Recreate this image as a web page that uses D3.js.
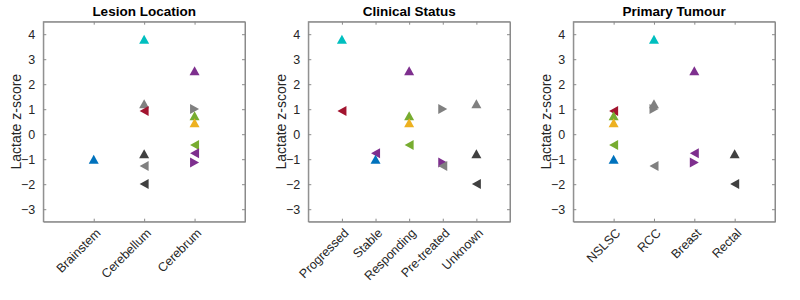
<!DOCTYPE html>
<html>
<head>
<meta charset="utf-8">
<script src="https://cdn.jsdelivr.net/npm/d3@7"></script>
<style>
  body { margin: 0; background: #fff; }
  text { font-family: "Liberation Sans", Arial, sans-serif; }
</style>
</head>
<body>
<div id="chart"></div>
<script>
// categories for each panel
var locationCats = ["Brainstem", "Cerebellum", "Cerebrum"];
var statusCats = ["Progressed", "Stable", "Responding", "Pre-treated", "Unknown"];
var tumourCats = ["NSLSC", "RCC", "Breast", "Rectal"];
var yTicks = [-3, -2, -1, 0, 1, 2, 3, 4];

// one entry per lesion
var lactateZ = [3.8, 2.54, 1.22, 0.93, 1.01, 0.74, 0.46, -0.43, -0.78, -0.76, -1.13, -1.0, -1.27, -1.99];
var lesionLocation = ["Cerebellum", "Cerebrum", "Cerebellum", "Cerebellum", "Cerebrum", "Cerebrum", "Cerebrum",
  "Cerebrum", "Cerebellum", "Cerebrum", "Cerebrum", "Brainstem", "Cerebellum", "Cerebellum"];
var clinicalStatus = ["Progressed", "Responding", "Unknown", "Progressed", "Pre-treated", "Responding", "Responding",
  "Responding", "Unknown", "Stable", "Pre-treated", "Stable", "Pre-treated", "Unknown"];
var primaryTumour = ["RCC", "Breast", "RCC", "NSLSC", "RCC", "NSLSC", "NSLSC",
  "NSLSC", "Rectal", "Breast", "Breast", "NSLSC", "RCC", "Rectal"];

// marker style per lesion
var markerColor = ["#00bfbf", "#7e2f8e", "#808080", "#a2142f", "#808080", "#77ac30", "#edb120",
  "#77ac30", "#404040", "#7e2f8e", "#7e2f8e", "#0072bd", "#808080", "#404040"];
var markerShape = ["up", "up", "up", "left", "right", "up", "up",
  "left", "up", "left", "right", "up", "left", "left"];

var W = 800, H = 300;
var top0 = 21.7, bottom0 = 221.7, boxW = 201.7;
var lefts = [43.3, 308.3, 573.3];

var svg = d3.select("#chart").append("svg")
  .attr("width", W).attr("height", H);

var y = d3.scaleLinear().domain([-3.5, 4.5]).range([bottom0, top0]);

function trianglePath(shape) {
  var w = 10, h = 9;
  if (shape == "up") return "M0," + (-h / 2) + "L" + (w / 2) + "," + (h / 2) + "L" + (-w / 2) + "," + (h / 2) + "Z";
  if (shape == "left") return "M" + (-h / 2) + ",0L" + (h / 2) + "," + (-w / 2) + "L" + (h / 2) + "," + (w / 2) + "Z";
  return "M" + (h / 2) + ",0L" + (-h / 2) + "," + (-w / 2) + "L" + (-h / 2) + "," + (w / 2) + "Z";
}

function drawPanel(left, title, cats, groups) {
  var g = svg.append("g").attr("transform", "translate(" + left + ",0)");
  var x = d3.scaleLinear().domain([0, cats.length + 1]).range([0, boxW]);
  var idx = cats.map(function (d, i) { return i + 1; });

  // box
  g.append("rect")
    .attr("x", 0).attr("y", top0)
    .attr("width", boxW).attr("height", bottom0 - top0)
    .attr("fill", "none").attr("stroke", "#8a8a8a").attr("stroke-width", 1);

  var xb = g.append("g").attr("transform", "translate(0," + bottom0 + ")")
    .call(d3.axisBottom(x).tickValues(idx).tickSizeInner(-3).tickSizeOuter(0)
      .tickFormat(function (d) { return cats[d - 1]; }));
  xb.selectAll("text")
    .attr("text-anchor", "end")
    .attr("transform", "translate(4,9) rotate(-45)")
    .attr("x", 0).attr("y", 0).attr("dy", "0.35em");

  g.append("g").attr("transform", "translate(0," + top0 + ")")
    .call(d3.axisTop(x).tickValues(idx).tickSizeInner(-3).tickSizeOuter(0).tickFormat(""));

  g.append("g")
    .call(d3.axisLeft(y).tickValues(yTicks).tickSizeInner(-3).tickSizeOuter(0).tickPadding(8));

  g.append("g").attr("transform", "translate(" + boxW + ",0)")
    .call(d3.axisRight(y).tickValues(yTicks).tickSizeInner(-3).tickSizeOuter(0).tickFormat(""));

  g.selectAll(".domain").attr("stroke", "#8a8a8a");
  g.selectAll(".tick line").attr("stroke", "#8a8a8a");
  g.selectAll(".tick text").attr("fill", "#262626").style("font-size", "12.5px")
    .style("font-family", "'Liberation Sans', Arial, sans-serif");

  g.append("text")
    .attr("x", boxW / 2).attr("y", 16)
    .attr("text-anchor", "middle")
    .style("font-size", "13.5px").style("font-weight", "bold")
    .text(title);

  g.append("text")
    .attr("transform", "translate(" + (-22) + "," + ((top0 + bottom0) / 2) + ") rotate(-90)")
    .attr("text-anchor", "middle")
    .style("font-size", "14px").attr("fill", "#262626")
    .text("Lactate z-score");

  g.selectAll(".marker")
    .data(lactateZ)
    .enter()
    .append("path")
    .attr("class", "marker")
    .attr("d", function (d, i) { return trianglePath(markerShape[i]); })
    .attr("transform", function (d, i) {
      return "translate(" + x(cats.indexOf(groups[i]) + 1) + "," + y(d) + ")";
    })
    .attr("fill", function (d, i) { return markerColor[i]; });
}

drawPanel(lefts[0], "Lesion Location", locationCats, lesionLocation);
drawPanel(lefts[1], "Clinical Status", statusCats, clinicalStatus);
drawPanel(lefts[2], "Primary Tumour", tumourCats, primaryTumour);
</script>
</body>
</html>
